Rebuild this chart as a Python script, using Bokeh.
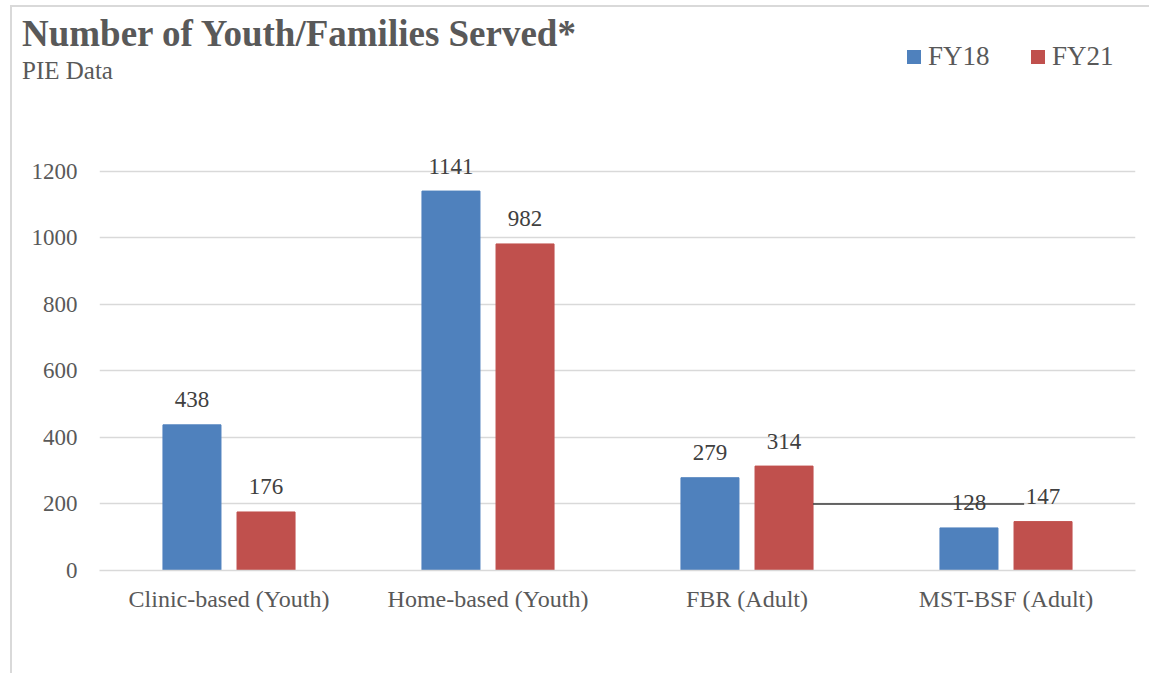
from bokeh.plotting import figure
from bokeh.layouts import column
from bokeh.models import ColumnDataSource, FactorRange, FixedTicker, Div
from bokeh.transform import dodge
from bokeh.embed import file_html
from bokeh.resources import INLINE

categories = ["Clinic-based (Youth)", "Home-based (Youth)", "FBR (Adult)", "MST-BSF (Adult)"]
fy18 = [438, 1141, 279, 128]
fy21 = [176, 982, 314, 147]
series_names = ["FY18", "FY21"]
y_ticks = [0, 200, 400, 600, 800, 1000, 1200]
title_text = "Number of Youth/Families Served*"
subtitle_text = "PIE Data"
# stray connector line seen in the reference (value level ~200)
connector_x0 = ("FBR (Adult)", 0.255)
connector_x1 = ("MST-BSF (Adult)", 0.07)
connector_y = 200

FONT = "Liberation Serif"
GREY = "#595959"
BLUE = "#4F81BD"
RED = "#C0504D"
W = 1137

# ---------- header (title, subtitle, legend) ----------
def swatch(left, color):
    return (f'<span style="position:absolute;left:{left}px;top:43px;width:14px;height:14px;'
            f'background:{color};"></span>')

def txt(left, top, size, s, bold=False):
    weight = "bold" if bold else "normal"
    return (f'<span style="position:absolute;left:{left}px;top:{top}px;font-size:{size}px;'
            f'font-weight:{weight};line-height:normal;white-space:nowrap;">{s}</span>')

header_html = (
    f'<div style="position:relative;width:{W}px;height:141px;font-family:\'{FONT}\';'
    f'color:{GREY};margin:0;padding:0;">'
    + txt(10, 5, 37, title_text, bold=True)
    + txt(10, 50, 25, subtitle_text)
    + swatch(895, BLUE) + txt(916, 34, 27, series_names[0])
    + swatch(1019, RED) + txt(1040, 34, 27, series_names[1])
    + '</div>'
)
head = Div(text=header_html, width=W, height=141, margin=0)

# ---------- main chart ----------
src = ColumnDataSource(dict(cat=categories, fy18=fy18, fy21=fy21,
                            l18=[str(v) for v in fy18], l21=[str(v) for v in fy21]))

p = figure(x_range=FactorRange(*categories, range_padding=0), y_range=(0, 1269),
           width=W, height=525, output_backend="svg", toolbar_location=None,
           min_border_left=87, min_border_right=14, min_border_top=0, min_border_bottom=103)
p.outline_line_color = None

p.vbar(x=dodge("cat", -0.143, range=p.x_range), top="fy18", width=0.224, source=src,
       fill_color=BLUE, line_color=BLUE)
p.vbar(x=dodge("cat", 0.143, range=p.x_range), top="fy21", width=0.224, source=src,
       fill_color=RED, line_color=RED)

for col, top, off in (("l18", "fy18", -0.143), ("l21", "fy21", 0.143)):
    p.text(x=dodge("cat", off, range=p.x_range), y=top, text=col, source=src,
           text_align="center", text_baseline="alphabetic", y_offset=-25,
           text_font={"value": FONT}, text_font_size="23px", text_color="#404040")

p.segment(x0=[connector_x0], y0=[connector_y], x1=[connector_x1], y1=[connector_y],
          line_color="#3a3a3a", line_width=1.5)

p.yaxis.ticker = FixedTicker(ticks=y_ticks)
p.yaxis.axis_line_color = None
p.yaxis.major_tick_line_color = None
p.yaxis.minor_tick_line_color = None
p.yaxis.major_label_text_font = FONT
p.yaxis.major_label_text_font_size = "23px"
p.yaxis.major_label_text_color = GREY
p.yaxis.major_label_standoff = 16

p.xaxis.axis_line_color = "#d9d9d9"
p.xaxis.axis_line_width = 1.5
p.xaxis.major_tick_line_color = None
p.xaxis.minor_tick_line_color = None
p.xaxis.major_label_text_font = FONT
p.xaxis.major_label_text_font_size = "24px"
p.xaxis.major_label_text_color = GREY
p.xaxis.major_label_standoff = 9

p.xgrid.grid_line_color = None
p.ygrid.grid_line_color = "#d9d9d9"
p.ygrid.grid_line_width = 1.5

layout = column(head, p, spacing=0)
layout.styles = {"border-left": "2px solid #d9d9d9", "border-top": "2px solid #d9d9d9",
                 "margin-left": "10px", "margin-top": "5px"}

open("out.html", "w").write(file_html(layout, INLINE))
